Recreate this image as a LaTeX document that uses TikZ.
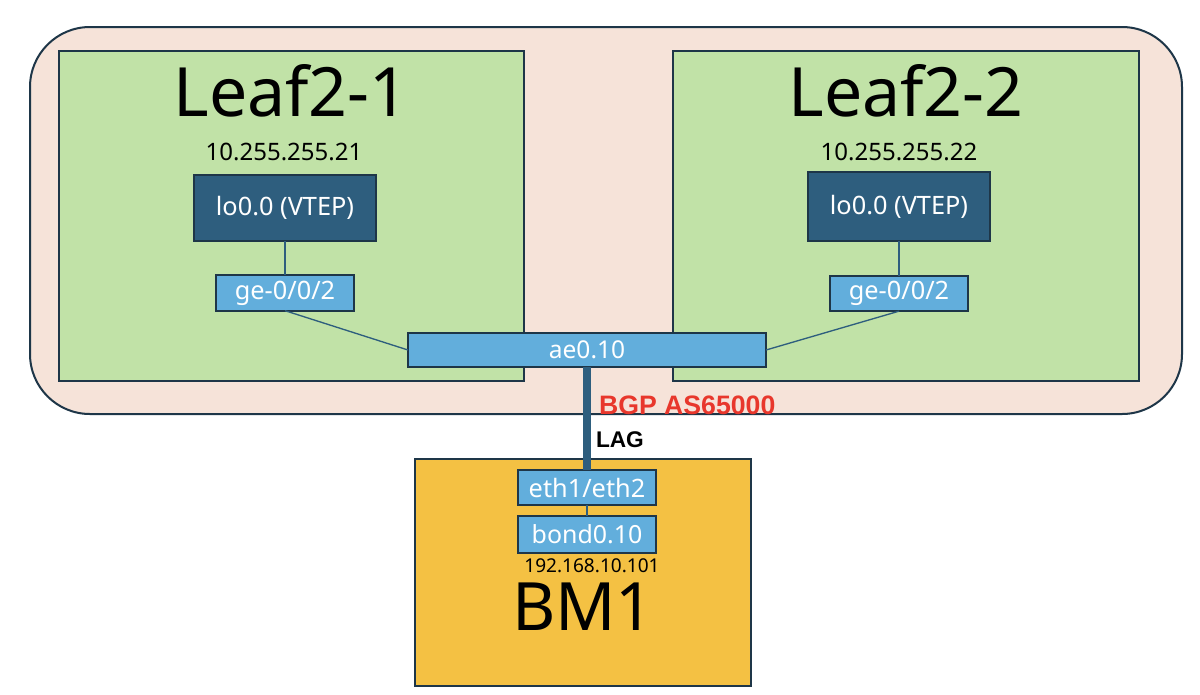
\documentclass[tikz,border=0pt]{standalone}
\usepackage{fontspec}
\setmainfont{Noto Sans}
\newfontfamily\labelbold{Liberation Sans}[UprightFont=*-Bold]
\begin{document}
\begin{tikzpicture}[x=0.75pt,y=-0.75pt,
  every node/.style={inner sep=0pt,outer sep=0pt},
  frame/.style={draw=edge,line width=1.5pt},
  zone/.style={frame,fill=leafgreen,anchor=north west},
  lobox/.style={frame,fill=lodark,text=white,minimum width=136.5pt,minimum height=50pt,font=\fontsize{19}{21}\selectfont},
  ifbox/.style={frame,fill=ifblue,text=white,minimum width=103.5pt,minimum height=26.5pt,font=\fontsize{19}{21}\selectfont},
  link/.style={draw=lodark,line width=1pt},
  bigtitle/.style={font=\fontsize{51}{56}\selectfont},
  iptext/.style={font=\fontsize{18}{20}\selectfont}
]
\definecolor{edge}{HTML}{1E3648}
\definecolor{peach}{HTML}{F6E3D9}
\definecolor{leafgreen}{HTML}{C1E2A7}
\definecolor{lodark}{HTML}{2E5E7E}
\definecolor{ifblue}{HTML}{62AEDC}
\definecolor{bmorange}{HTML}{F4C143}
\definecolor{bgpred}{HTML}{E8372C}
\useasboundingbox (0,0) rectangle (1200,694);
\fill[white] (0,0) rectangle (1200,694);
% outer group
\draw[frame,fill=peach,rounded corners=45pt] (30,27) rectangle (1182,414);
% leaves
\node[zone,minimum width=348.75pt,minimum height=247.5pt] (leafA) at (59,51) {};
\node[zone,minimum width=349.5pt,minimum height=247.5pt] (leafB) at (673,51) {};
\node[bigtitle] (titleA) at (291,91) {Leaf2-1};
\node[bigtitle] (titleB) at (906,91) {Leaf2-2};
\node[iptext] (ipA) at (284,152) {10.255.255.21};
\node[iptext] (ipB) at (899,152) {10.255.255.22};
\node[lobox] (loA) at (285,208) {lo0.0 (VTEP)};
\node[lobox,minimum height=52pt] (loB) at (899,206.5) {lo0.0 (VTEP)};
\node[ifbox] (geA) at (285,293) {ge-0/0/2};
\node[ifbox] (geB) at (899,293.5) {ge-0/0/2};
\node[ifbox,minimum width=268.5pt,minimum height=25.5pt,font=\fontsize{18.4}{20}\selectfont] (ae) at (587,350) {ae0.10};
% BM1
\node[frame,fill=bmorange,anchor=north west,minimum width=252pt,minimum height=170.25pt] (bm) at (415,459) {};
\node[ifbox] (eth) at (587,487.5) {eth1/eth2};
\node[ifbox,minimum height=27.75pt,font=\fontsize{18.7}{20}\selectfont] (bond) at (587,534.5) {bond0.10};
\node[font=\fontsize{14.3}{16}\selectfont] (ipbm) at (592,566) {192.168.10.101};
\node[font=\fontsize{50}{56}\selectfont] (bmtitle) at (583,607) {BM1};
% connectors
\draw[link] (loA.south) -- (geA.north);
\draw[link] (loB.south) -- (geB.north);
\draw[link] (geA.south) -- (ae.west);
\draw[link] (geB.south) -- (ae.east);
\draw[link] (eth.south) -- (bond.north);
\draw[draw=lodark,line width=5.5pt] (ae.south) -- (eth.north);
\node[anchor=west,text=bgpred,font=\labelbold\fontsize{20}{22}\selectfont] (bgp) at (599,405) {BGP AS65000};
\node[anchor=west,font=\labelbold\fontsize{17}{19}\selectfont] (lag) at (596,440) {LAG};
\end{tikzpicture}
\end{document}
